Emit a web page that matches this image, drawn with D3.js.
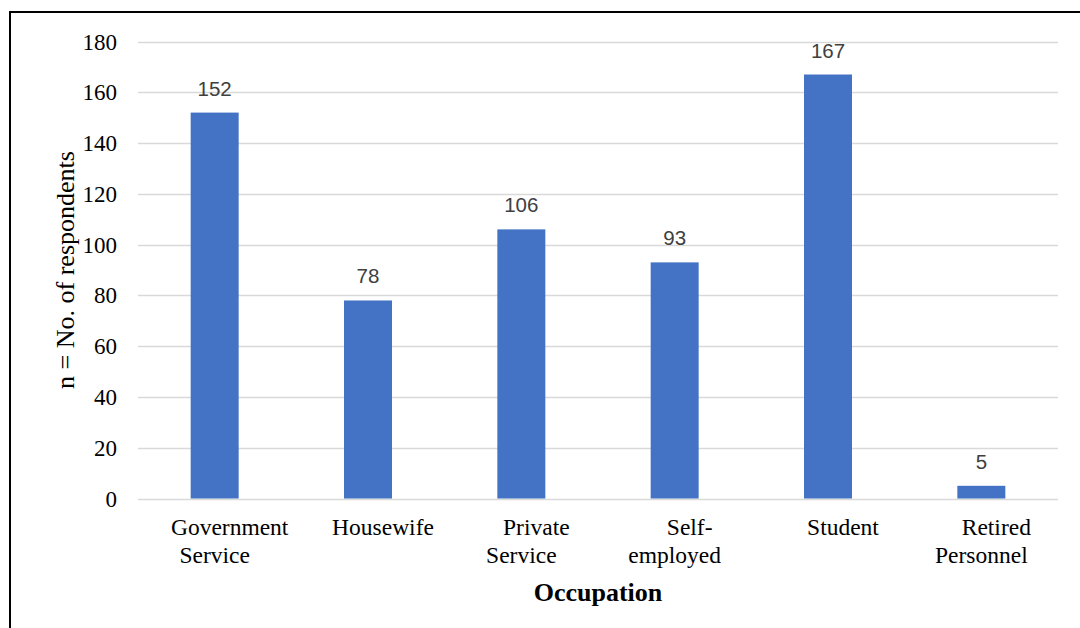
<!DOCTYPE html>
<html>
<head>
<meta charset="utf-8">
<script src="https://cdn.jsdelivr.net/npm/d3@7/dist/d3.min.js"></script>
<style>
  html, body { margin: 0; padding: 0; background: #fff; }
  svg { display: block; }
</style>
</head>
<body>
<svg id="chart" width="1080" height="628"></svg>
<script>
// Occupation of respondents
const categories = ["Government Service", "Housewife", "Private Service", "Self-employed", "Student", "Retired Personnel"];
const categoryLines = [["Government", "Service"], ["Housewife"], ["Private", "Service"], ["Self-", "employed"], ["Student"], ["Retired", "Personnel"]];
const respondents = [152, 78, 106, 93, 167, 5];
const yTicks = [0, 20, 40, 60, 80, 100, 120, 140, 160, 180];
const yTitle = "n = No. of respondents";
const xTitle = "Occupation";

const svg = d3.select("#chart");
const W = 1080, H = 628;
const margin = { left: 138, right: 22, top: 41.5, bottom: 129.5 };

// frame
svg.append("rect")
  .attr("x", 10).attr("y", 12)
  .attr("width", W + 20).attr("height", H + 20)
  .attr("fill", "none").attr("stroke", "#000").attr("stroke-width", 2);

const x = d3.scaleBand()
  .domain(categories)
  .range([margin.left, W - margin.right])
  .paddingInner(0.687).paddingOuter(0.3435);

const y = d3.scaleLinear()
  .domain([0, 180])
  .range([H - margin.bottom, margin.top]);

// gridlines
svg.append("g")
  .selectAll("line")
  .data(yTicks)
  .join("line")
  .attr("x1", margin.left).attr("x2", W - margin.right)
  .attr("y1", d => Math.round(y(d)) + 0.5).attr("y2", d => Math.round(y(d)) + 0.5)
  .attr("stroke", "#d9d9d9").attr("stroke-width", 1.5);

// y axis labels
const yAxis = d3.axisLeft(y).tickValues(yTicks).tickSize(0).tickPadding(0);
const yg = svg.append("g")
  .attr("transform", `translate(117,0)`)
  .call(yAxis);
yg.select(".domain").remove();
yg.selectAll("text")
  .attr("font-family", "'Liberation Serif', 'Times New Roman', serif")
  .attr("font-size", 23)
  .attr("fill", "#000")
  .attr("dy", "0.33em");

// bars
svg.append("g")
  .selectAll("rect")
  .data(respondents)
  .join("rect")
  .attr("x", (d, i) => x(categories[i]))
  .attr("width", x.bandwidth())
  .attr("y", d => y(d))
  .attr("height", d => y(0) - y(d))
  .attr("fill", "#4472c4");

// value labels
svg.append("g")
  .selectAll("text")
  .data(respondents)
  .join("text")
  .attr("x", (d, i) => x(categories[i]) + x.bandwidth() / 2)
  .attr("y", d => y(d) - 17)
  .attr("text-anchor", "middle")
  .attr("font-family", "'Liberation Sans', Arial, sans-serif")
  .attr("font-size", 20.5)
  .attr("fill", "#404040")
  .text(d => d);

// category labels
const firstLineShift = 15;
const cat = svg.append("g")
  .selectAll("text")
  .data(categories)
  .join("text")
  .attr("text-anchor", "middle")
  .attr("font-family", "'Liberation Serif', 'Times New Roman', serif")
  .attr("font-size", 23.5)
  .attr("fill", "#000");
cat.each(function(d, i) {
  const cx = x(d) + x.bandwidth() / 2;
  d3.select(this).selectAll("tspan")
    .data(categoryLines[i])
    .join("tspan")
    .attr("x", (t, j) => cx + (j === 0 ? firstLineShift : 0))
    .attr("y", (t, j) => 535 + j * 28)
    .text(t => t);
});

// axis titles
svg.append("text")
  .attr("x", 598).attr("y", 601)
  .attr("text-anchor", "middle")
  .attr("font-family", "'Liberation Serif', 'Times New Roman', serif")
  .attr("font-size", 26)
  .attr("font-weight", "bold")
  .attr("fill", "#000")
  .text(xTitle);

svg.append("text")
  .attr("transform", `translate(74, ${(y(0) + y(180)) / 2}) rotate(-90)`)
  .attr("text-anchor", "middle")
  .attr("font-family", "'Liberation Serif', 'Times New Roman', serif")
  .attr("font-size", 26)
  .attr("fill", "#000")
  .text(yTitle);
</script>
</body>
</html>
